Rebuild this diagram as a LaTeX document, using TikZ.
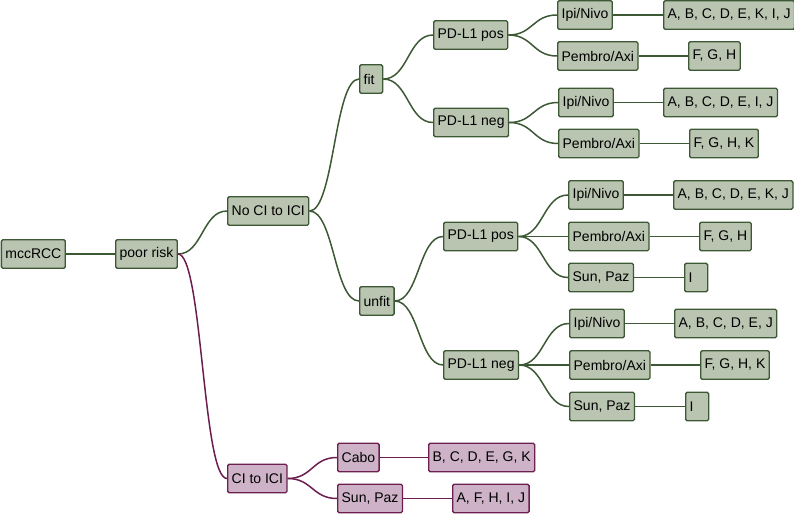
\documentclass[tikz,border=0pt]{standalone}
\usepackage{fontspec}
\setmainfont{Liberation Sans}
\usetikzlibrary{calc}
\definecolor{gfill}{HTML}{B9C4B1}
\definecolor{gline}{HTML}{3C5834}
\definecolor{pfill}{HTML}{CDB2C8}
\definecolor{pline}{HTML}{6C1F4E}
\tikzset{
  gbox/.style={draw=gline, fill=gfill, line width=1.3pt, rounded corners=1.5pt,
    inner xsep=4pt, inner ysep=0pt, minimum height=28.5pt, minimum width=23pt,
    anchor=west, font=\fontsize{14}{16}\selectfont},
  pbox/.style={gbox, draw=pline, fill=pfill},
  narrow/.style={text width=15pt, align=left},
  glink/.style={draw=gline, line width=1.5pt},
  plink/.style={draw=pline, line width=1.5pt},
}
\newcommand\lnk[3]{%
  \coordinate (lnkmid) at ($(#1.east)!0.5!(#2.west)$);
  \draw[#3] (#1.east) .. controls (lnkmid |- #1.east) and (lnkmid |- #2.west) .. (#2.west);}
\begin{document}
\begin{tikzpicture}[x=1pt,y=-1pt]
\useasboundingbox (0,0) rectangle (794,514);
% level 0-1
\node[gbox] (m) at (0.7,254) {mccRCC};
\node[gbox] (pr) at (115,254) {poor risk};
\node[gbox] (no) at (227,211) {No CI to ICI};
\node[pbox] (ci) at (227,478.5) {CI to ICI};
% fit branch
\node[gbox,narrow] (fit) at (359,79) {fit};
\node[gbox] (pp1) at (433,35) {PD-L1 pos};
\node[gbox] (pn1) at (433,122.5) {PD-L1 neg};
\node[gbox] (i1) at (557,15) {Ipi/Nivo};
\node[gbox] (i1r) at (663,15) {A, B, C, D, E, K, I, J};
\node[gbox] (p1) at (557,56) {Pembro/Axi};
\node[gbox] (p1r) at (688,56) {F, G, H};
\node[gbox] (i2) at (558,102.5) {Ipi/Nivo};
\node[gbox] (i2r) at (663,102.5) {A, B, C, D, E, I, J};
\node[gbox] (p2) at (558,143.5) {Pembro/Axi};
\node[gbox] (p2r) at (689,143.5) {F, G, H, K};
% unfit branch
\node[gbox] (unfit) at (359,301) {unfit};
\node[gbox] (pp2) at (443,236.5) {PD-L1 pos};
\node[gbox] (pn2) at (443,365) {PD-L1 neg};
\node[gbox] (i3) at (568,195) {Ipi/Nivo};
\node[gbox] (i3r) at (673,195) {A, B, C, D, E, K, J};
\node[gbox] (p3) at (568,236.5) {Pembro/Axi};
\node[gbox] (p3r) at (699,236.5) {F, G, H};
\node[gbox] (s3) at (568,277.5) {Sun, Paz};
\node[gbox,narrow] (s3r) at (684,277.5) {I};
\node[gbox] (i4) at (569,323.5) {Ipi/Nivo};
\node[gbox] (i4r) at (674,323.5) {A, B, C, D, E, J};
\node[gbox] (p4) at (569,365) {Pembro/Axi};
\node[gbox] (p4r) at (700,365) {F, G, H, K};
\node[gbox] (s4) at (569,406.5) {Sun, Paz};
\node[gbox,narrow] (s4r) at (685,406.5) {I};
% CI branch
\node[pbox] (cabo) at (337,457.5) {Cabo};
\node[pbox] (cabor) at (428,457.5) {B, C, D, E, G, K};
\node[pbox] (sp) at (337,498.5) {Sun, Paz};
\node[pbox] (spr) at (452,498.5) {A, F, H, I, J};
% links
\lnk{m}{pr}{glink}
\lnk{pr}{no}{glink}
\lnk{pr}{ci}{plink}
\lnk{no}{fit}{glink}
\lnk{no}{unfit}{glink}
\lnk{fit}{pp1}{glink}
\lnk{fit}{pn1}{glink}
\lnk{pp1}{i1}{glink}
\lnk{pp1}{p1}{glink}
\lnk{i1}{i1r}{glink}
\lnk{p1}{p1r}{glink}
\lnk{pn1}{i2}{glink}
\lnk{pn1}{p2}{glink}
\lnk{i2}{i2r}{glink}
\lnk{p2}{p2r}{glink}
\lnk{unfit}{pp2}{glink}
\lnk{unfit}{pn2}{glink}
\lnk{pp2}{i3}{glink}
\lnk{pp2}{p3}{glink}
\lnk{pp2}{s3}{glink}
\lnk{i3}{i3r}{glink}
\lnk{p3}{p3r}{glink}
\lnk{s3}{s3r}{glink}
\lnk{pn2}{i4}{glink}
\lnk{pn2}{p4}{glink}
\lnk{pn2}{s4}{glink}
\lnk{i4}{i4r}{glink}
\lnk{p4}{p4r}{glink}
\lnk{s4}{s4r}{glink}
\lnk{ci}{cabo}{plink}
\lnk{ci}{sp}{plink}
\lnk{cabo}{cabor}{plink}
\lnk{sp}{spr}{plink}
\end{tikzpicture}
\end{document}
